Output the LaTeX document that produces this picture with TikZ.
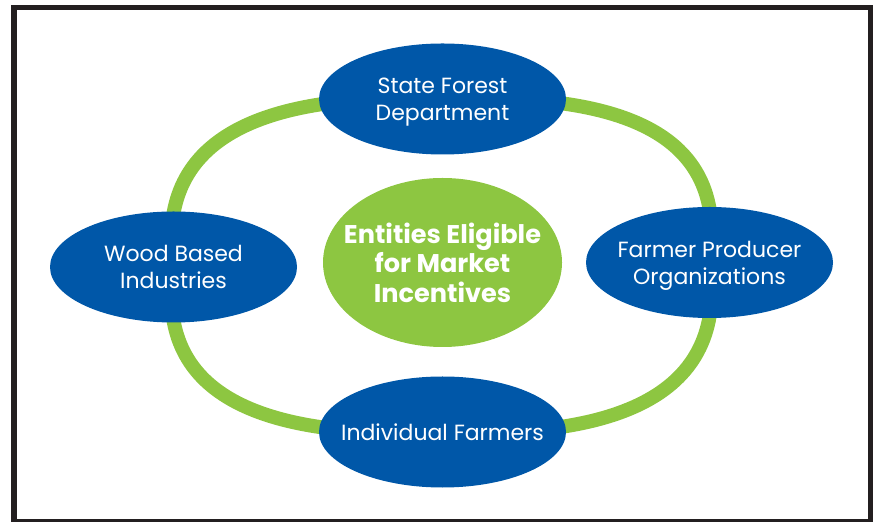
\documentclass[tikz,border=0pt]{standalone}
\usepackage{fontspec}
\setmainfont{Poppins}
\usetikzlibrary{shapes.geometric}
\usetikzlibrary{backgrounds}
\definecolor{entityblue}{HTML}{0057A8}
\definecolor{ringgreen}{HTML}{8DC641}
\definecolor{framegray}{HTML}{231F20}
\tikzset{entity/.style={ellipse, fill=entityblue, text=white, inner ysep=0pt, inner xsep=-8pt,
    minimum width=123.5pt, minimum height=55.5pt, align=center, text depth=-1.5pt,
    font=\fontsize{11}{13.5}\selectfont}}
\tikzset{hub/.style={ellipse, fill=ringgreen, text=white, inner ysep=0pt, inner xsep=-10pt,
    minimum width=119.5pt, minimum height=84.5pt, align=center, text depth=-5pt,
    font=\fontsize{12.8}{14.75}\selectfont\bfseries}}
\tikzset{ring/.style={draw=ringgreen, line width=7pt}}

\begin{document}
\begin{tikzpicture}[x=0.5pt, y=0.5pt]
		\useasboundingbox (0,0) rectangle (876,-522);
		\draw[framegray, line width=2.75pt] (13.8,-7.5) rectangle (870.5,-521.5);
		\node[hub] (core) at (442.5,-262.5) {Entities Eligible\\for Market\\Incentives};
		\node[entity] (sfd) at (442.5,-99) {State Forest\\Department};
		\node[entity] (wbi) at (173.5,-267) {Wood Based\\Industries};
		\node[entity] (fpo) at (709.5,-262.5) {Farmer Producer\\Organizations};
		\node[entity] (ifm) at (442.5,-432) {Individual Farmers};
		\begin{pgfonlayer}{background}
		\draw[ring] (wbi.center) .. controls +(-18.5,127) and +(-185,7) .. (sfd.center)
			.. controls +(185,7) and +(18.5,127) .. (fpo.center)
			.. controls +(18.5,-127) and +(185,-7) .. (ifm.center)
			.. controls +(-185,-7) and +(-18.5,-127) .. (wbi.center);
		\end{pgfonlayer}
\end{tikzpicture}
\end{document}
